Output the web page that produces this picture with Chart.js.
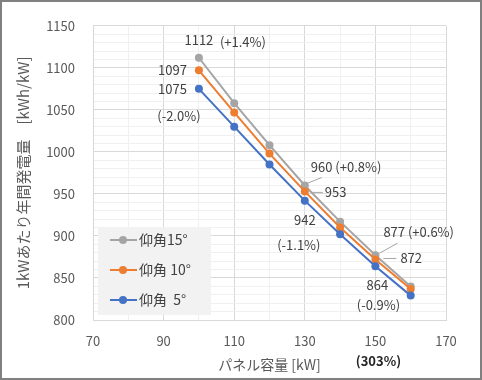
<!DOCTYPE html>
<html>
<head>
<meta charset="utf-8">
<script src="https://cdn.jsdelivr.net/npm/chart.js@4"></script>
<style>
  body { margin: 0; background: #fff; }
  #wrap { width: 482px; height: 380px; }
</style>
</head>
<body>
<div id="wrap"><canvas id="pvChart" width="482" height="380"></canvas></div>
<script>
// パネル容量 [kW]
const panelKw = [100, 110, 120, 130, 140, 150, 160];
// 1kWあたり年間発電量 [kWh/kW]
const tilt15 = [1112, 1058, 1008, 960, 917, 877, 840];
const tilt10 = [1097, 1047, 998, 953, 910, 872, 837];
const tilt5 = [1075, 1030, 985, 942, 902, 864, 829];
const seriesNames = ['仰角15°', '仰角 10°', '仰角  5°'];

// 注記 (系列番号, 点番号, テキスト)
const noteSeries = [0, 0, 1, 2, 2, 0, 1, 2, 2, 0, 1, 2, 2];
const noteIndex = [0, 0, 0, 0, 0, 3, 3, 3, 3, 5, 5, 5, 5];
const noteText = ['1112', '(+1.4%)', '1097', '1075', '(-2.0%)', '960 (+0.8%)', '953', '942', '(-1.1%)', '877 (+0.6%)', '872', '864', '(-0.9%)'];
const ratioLabel = '(303%)';
const ratioAt = 150;

const FONT = "'Noto Sans CJK JP', 'Noto Sans', sans-serif";
const colors = ['#a5a5a5', '#ed7d31', '#4472c4'];
const allSeries = [tilt15, tilt10, tilt5];

// 注記の位置調整 [dx, dy, align]
const noteOffsets = [
    [0, -18, 'center'], [44, -16, 'center'], [-12, 0, 'right'], [-12, 0, 'right'], [-20, 27, 'center'],
    [6, -18, 'left'], [20, 1, 'left'], [0, 19, 'center'], [-6, 44, 'center'],
    [8, -23, 'left'], [25, -1, 'left'], [2, 19, 'center'], [3, 39, 'center']
];
// 引出線 [note番号, x1, y1, x2, y2]
const leaders = [
    [5, 2, -2, 17, -8], [6, 7, 1, 18, 1], [9, 4, -2, 22, -12], [10, 8, -1, 21, -1]
];

const chartDecor = {
    id: 'chartDecor',
    beforeDraw(chart) {
        const ctx = chart.ctx;
        ctx.save();
        ctx.fillStyle = '#fff';
        ctx.fillRect(0, 0, chart.width, chart.height);
        ctx.restore();
    },
    afterDraw(chart) {
        const ctx = chart.ctx;
        const xs = chart.scales.x, ys = chart.scales.y;
        ctx.save();

        // 引出線
        ctx.strokeStyle = '#a6a6a6';
        ctx.lineWidth = 1;
        leaders.forEach(l => {
            const i = l[0];
            const px = xs.getPixelForValue(panelKw[noteIndex[i]]);
            const py = ys.getPixelForValue(allSeries[noteSeries[i]][noteIndex[i]]);
            ctx.beginPath();
            ctx.moveTo(px + l[1], py + l[2]);
            ctx.lineTo(px + l[3], py + l[4]);
            ctx.stroke();
        });

        // データラベル
        ctx.font = '13px ' + FONT;
        ctx.fillStyle = '#404040';
        ctx.textBaseline = 'middle';
        noteText.forEach((t, i) => {
            const px = xs.getPixelForValue(panelKw[noteIndex[i]]);
            const py = ys.getPixelForValue(allSeries[noteSeries[i]][noteIndex[i]]);
            const o = noteOffsets[i];
            ctx.textAlign = o[2];
            ctx.fillText(t, px + o[0], py + o[1]);
        });

        ctx.font = 'bold 13px ' + FONT;
        ctx.textAlign = 'center';
        ctx.fillStyle = '#262626';
        ctx.fillText(ratioLabel, xs.getPixelForValue(ratioAt) + 3, chart.chartArea.bottom + 41);

        // 凡例
        const lx = 98, ly = 227, lw = 113, lh = 88;
        ctx.fillStyle = '#f2f2f2';
        ctx.fillRect(lx, ly, lw, lh);
        ctx.font = '14px ' + FONT;
        ctx.textAlign = 'left';
        seriesNames.forEach((name, i) => {
            const y = ly + 13 + i * 30;
            ctx.strokeStyle = colors[i];
            ctx.lineWidth = 2;
            ctx.beginPath();
            ctx.moveTo(lx + 12, y);
            ctx.lineTo(lx + 39, y);
            ctx.stroke();
            ctx.fillStyle = colors[i];
            ctx.beginPath();
            ctx.arc(lx + 25, y, 4, 0, Math.PI * 2);
            ctx.fill();
            ctx.fillStyle = '#404040';
            ctx.fillText(name, lx + 41, y);
        });

        // 外枠
        ctx.strokeStyle = '#808080';
        ctx.lineWidth = 2;
        ctx.strokeRect(1, 1, chart.width - 2, chart.height - 2);
        ctx.restore();
    }
};

function gridColor(ctx, major, base) {
    const v = ctx.tick ? ctx.tick.value : 0;
    return (v - base) % major === 0 ? '#d9d9d9' : '#f0f0f0';
}

const ctx = document.getElementById('pvChart').getContext('2d');
const pvChart = new Chart(ctx, {
    type: 'line',
    data: {
        datasets: allSeries.map((s, i) => ({
            label: seriesNames[i],
            data: panelKw.map((x, j) => ({ x: x, y: s[j] })),
            borderColor: colors[i],
            backgroundColor: colors[i],
            borderWidth: 2,
            pointRadius: 4,
            pointBorderWidth: 0,
            tension: 0,
            order: 3 - i
        }))
    },
    options: {
        responsive: false,
        animation: false,
        layout: { padding: { left: 0, top: 16, right: 36, bottom: 0 } },
        plugins: {
            legend: { display: false },
            tooltip: { enabled: false }
        },
        scales: {
            x: {
                type: 'linear',
                min: 70,
                max: 170,
                afterFit: s => { s.height = 60; },
                ticks: {
                    stepSize: 10,
                    autoSkip: false,
                    maxRotation: 0,
                    padding: 13,
                    color: '#595959',
                    font: { family: FONT, size: 13 },
                    callback: v => ((v - 70) % 20 === 0 ? v : '')
                },
                grid: {
                    drawTicks: false,
                    color: c => gridColor(c, 20, 70)
                },
                border: { color: '#d9d9d9' },
                title: {
                    display: true,
                    text: 'パネル容量 [kW]',
                    color: '#595959',
                    font: { family: FONT, size: 14 },
                    padding: { top: 0, bottom: 7 }
                }
            },
            y: {
                min: 800,
                max: 1150,
                afterFit: s => { s.width = 93; },
                ticks: {
                    stepSize: 10,
                    autoSkip: false,
                    padding: 18,
                    color: '#595959',
                    font: { family: FONT, size: 13 },
                    callback: v => (v % 50 === 0 ? v : '')
                },
                grid: {
                    drawTicks: false,
                    color: c => gridColor(c, 50, 800)
                },
                border: { color: '#d9d9d9' },
                title: {
                    display: true,
                    text: '1kWあたり年間発電量　[kWh/kW]',
                    color: '#595959',
                    font: { family: FONT, size: 15 },
                    padding: { top: 14, bottom: 0 }
                }
            }
        }
    },
    plugins: [chartDecor]
});
</script>
</body>
</html>
